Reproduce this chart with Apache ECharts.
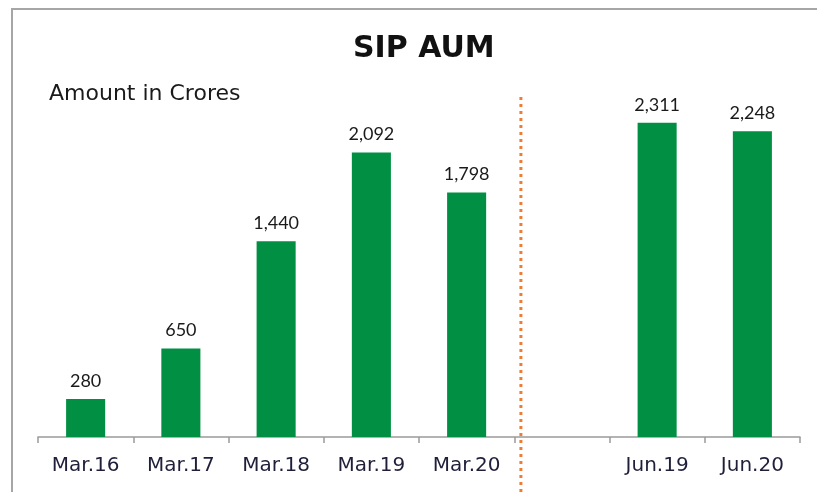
<!DOCTYPE html>
<html>
<head>
<meta charset="utf-8">
<script src="https://cdn.jsdelivr.net/npm/echarts@6/dist/echarts.min.js"></script>
<style>
  html, body { margin: 0; padding: 0; background: #fff; }
  #chart { width: 817px; height: 492px; }
</style>
</head>
<body>
<div id="chart"></div>
<script>
const categories = ['Mar.16', 'Mar.17', 'Mar.18', 'Mar.19', 'Mar.20', '', 'Jun.19', 'Jun.20']
const aumValues = [280, 650, 1440, 2092, 1798, null, 2311, 2248]
// position of the dotted separator, in category units from the left edge
const separatorAt = [5.07]

const chart = echarts.init(document.getElementById('chart'))

chart.setOption({
  animation: false,
  textStyle: { fontFamily: 'Lato, "Open Sans", sans-serif' },
  title: [
    {
      text: 'SIP AUM',
      left: 348,
      top: 29,
      textStyle: { fontFamily: '"DejaVu Sans"', fontSize: 30, fontWeight: 'bold', color: '#111' }
    },
    {
      text: 'Amount in Crores',
      left: 44,
      top: 78,
      textStyle: { fontFamily: '"DejaVu Sans"', fontSize: 22, fontWeight: 'normal', color: '#1a1a1a' }
    }
  ],
  graphic: [
    {
      type: 'rect',
      shape: { x: 12, y: 9, width: 900, height: 600 },
      style: { fill: 'none', stroke: '#a6a6a6', lineWidth: 2 },
      silent: true
    }
  ],
  grid: [
    { left: 38, right: 17, top: 97, bottom: 55 },
    { left: 38, right: 17, top: 97, bottom: 0 }
  ],
  xAxis: [
    {
      type: 'category',
      gridIndex: 0,
      data: categories,
      axisLine: { lineStyle: { color: '#9a9a9a', width: 1.5 } },
      axisTick: { show: true, length: 6, lineStyle: { color: '#9a9a9a', width: 1.5 } },
      axisLabel: { fontFamily: '"DejaVu Sans"', color: '#1f1f3a', fontSize: 20, margin: 19 }
    },
    { type: 'value', gridIndex: 1, min: 0, max: categories.length, show: false }
  ],
  yAxis: [
    { type: 'value', gridIndex: 0, min: 0, max: 2500, show: false },
    { type: 'value', gridIndex: 1, min: 0, max: 1, show: false }
  ],
  series: [
    {
      type: 'bar',
      xAxisIndex: 0,
      yAxisIndex: 0,
      data: aumValues,
      barWidth: '41%',
      itemStyle: { color: '#008f43' },
      label: {
        show: true,
        position: 'top',
        distance: 9,
        fontSize: 18,
        color: '#1a1a1a',
        formatter: p => p.value == null ? '' : p.value.toLocaleString('en-US')
      }
    },
    {
      type: 'line',
      xAxisIndex: 1,
      yAxisIndex: 1,
      symbol: 'none',
      data: [[separatorAt[0], 0], [separatorAt[0], 1]],
      lineStyle: { color: '#ed7d31', width: 3, type: [3, 4] }
    }
  ]
})
</script>
</body>
</html>
